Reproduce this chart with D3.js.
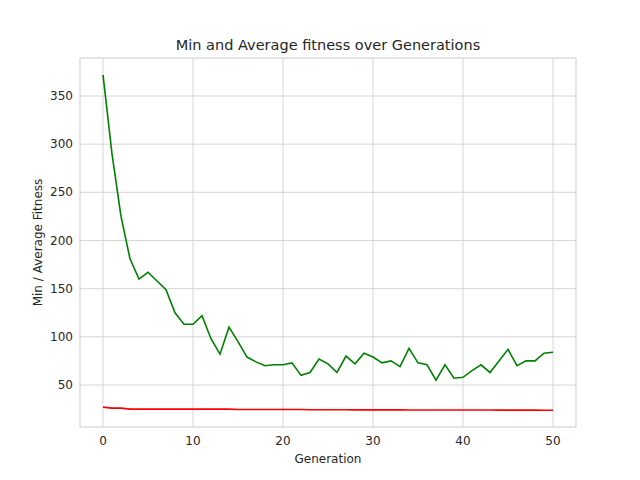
<!DOCTYPE html>
<meta charset="utf-8">
<style>
    body { margin: 0; background: #fff; }
    text { font-family: "DejaVu Sans", sans-serif; fill: #262626; }
    .grid line { stroke: #cccccc; stroke-width: 0.8; }
</style>
<body>
<script src="https://cdn.jsdelivr.net/npm/d3@7"></script>
<script>

    var avgFitness = [372, 290, 225, 181, 160, 167, 158, 149, 125, 113, 113, 122, 98, 82, 110, 95, 79, 74, 70, 71,
        71, 73, 60, 63, 77, 72, 63, 80, 72, 83, 79, 73, 75, 69, 88, 73, 71, 55, 71, 57,
        58, 65, 71, 63, 75, 87, 70, 75, 75, 83, 84];
    var minFitness = [27, 26, 26, 25, 25, 25, 25, 25, 25, 25, 25, 25, 25, 25, 25, 24.5, 24.5, 24.5, 24.5, 24.5,
        24.5, 24.5, 24.5, 24.3, 24.3, 24.3, 24.3, 24.3, 24.2, 24.2, 24.2, 24.2, 24.2, 24.2, 24.1, 24.1, 24.1, 24, 24, 24,
        24, 24, 24, 24, 23.9, 23.9, 23.9, 23.9, 23.9, 23.8, 23.8];
    var xTicks = [0, 10, 20, 30, 40, 50];
    var yTicks = [50, 100, 150, 200, 250, 300, 350];

    var width = 640, height = 480;
    var plotLeft = 80, plotRight = 576, plotTop = 58, plotBottom = 427;

    var svg = d3.select("body").append("svg")
        .attr("width", width)
        .attr("height", height);

    var x = d3.scaleLinear().domain([0, 50]).range([103, 553]);
    var y = d3.scaleLinear().domain([50, 350]).range([385, 96]);

    // grid
    var grid = svg.append("g").attr("class", "grid");
    grid.selectAll("line.gx").data(xTicks).enter().append("line")
        .attr("x1", x).attr("x2", x).attr("y1", plotTop).attr("y2", plotBottom);
    grid.selectAll("line.gy").data(yTicks).enter().append("line")
        .attr("y1", y).attr("y2", y).attr("x1", plotLeft).attr("x2", plotRight);

    svg.append("rect")
        .attr("x", plotLeft).attr("y", plotTop)
        .attr("width", plotRight - plotLeft).attr("height", plotBottom - plotTop)
        .attr("fill", "none").attr("stroke", "#cccccc").attr("stroke-width", 1);

    // tick labels
    svg.selectAll("text.xt").data(xTicks).enter().append("text")
        .attr("x", x).attr("y", plotBottom + 18)
        .attr("text-anchor", "middle").attr("font-size", 12)
        .text(function (d) { return d; });
    svg.selectAll("text.yt").data(yTicks).enter().append("text")
        .attr("x", plotLeft - 7).attr("y", function (d) { return y(d) + 4; })
        .attr("text-anchor", "end").attr("font-size", 12)
        .text(function (d) { return d; });

    var line = function (arr) {
        return d3.line()
            .x(function (d, i) { return x(i); })
            .y(function (d) { return y(d); })(arr);
    };

    svg.append("path").attr("d", line(minFitness))
        .attr("fill", "none").attr("stroke", "red").attr("stroke-width", 1.6);
    svg.append("path").attr("d", line(avgFitness))
        .attr("fill", "none").attr("stroke", "green").attr("stroke-width", 1.6);

    // labels
    svg.append("text").attr("x", (plotLeft + plotRight) / 2).attr("y", 50)
        .attr("text-anchor", "middle").attr("font-size", 14.5)
        .text("Min and Average fitness over Generations");
    svg.append("text").attr("x", (plotLeft + plotRight) / 2).attr("y", 463)
        .attr("text-anchor", "middle").attr("font-size", 12)
        .text("Generation");
    svg.append("text")
        .attr("transform", "translate(42," + ((plotTop + plotBottom) / 2) + ") rotate(-90)")
        .attr("text-anchor", "middle").attr("font-size", 12)
        .text("Min / Average Fitness");

</script>
</body>
